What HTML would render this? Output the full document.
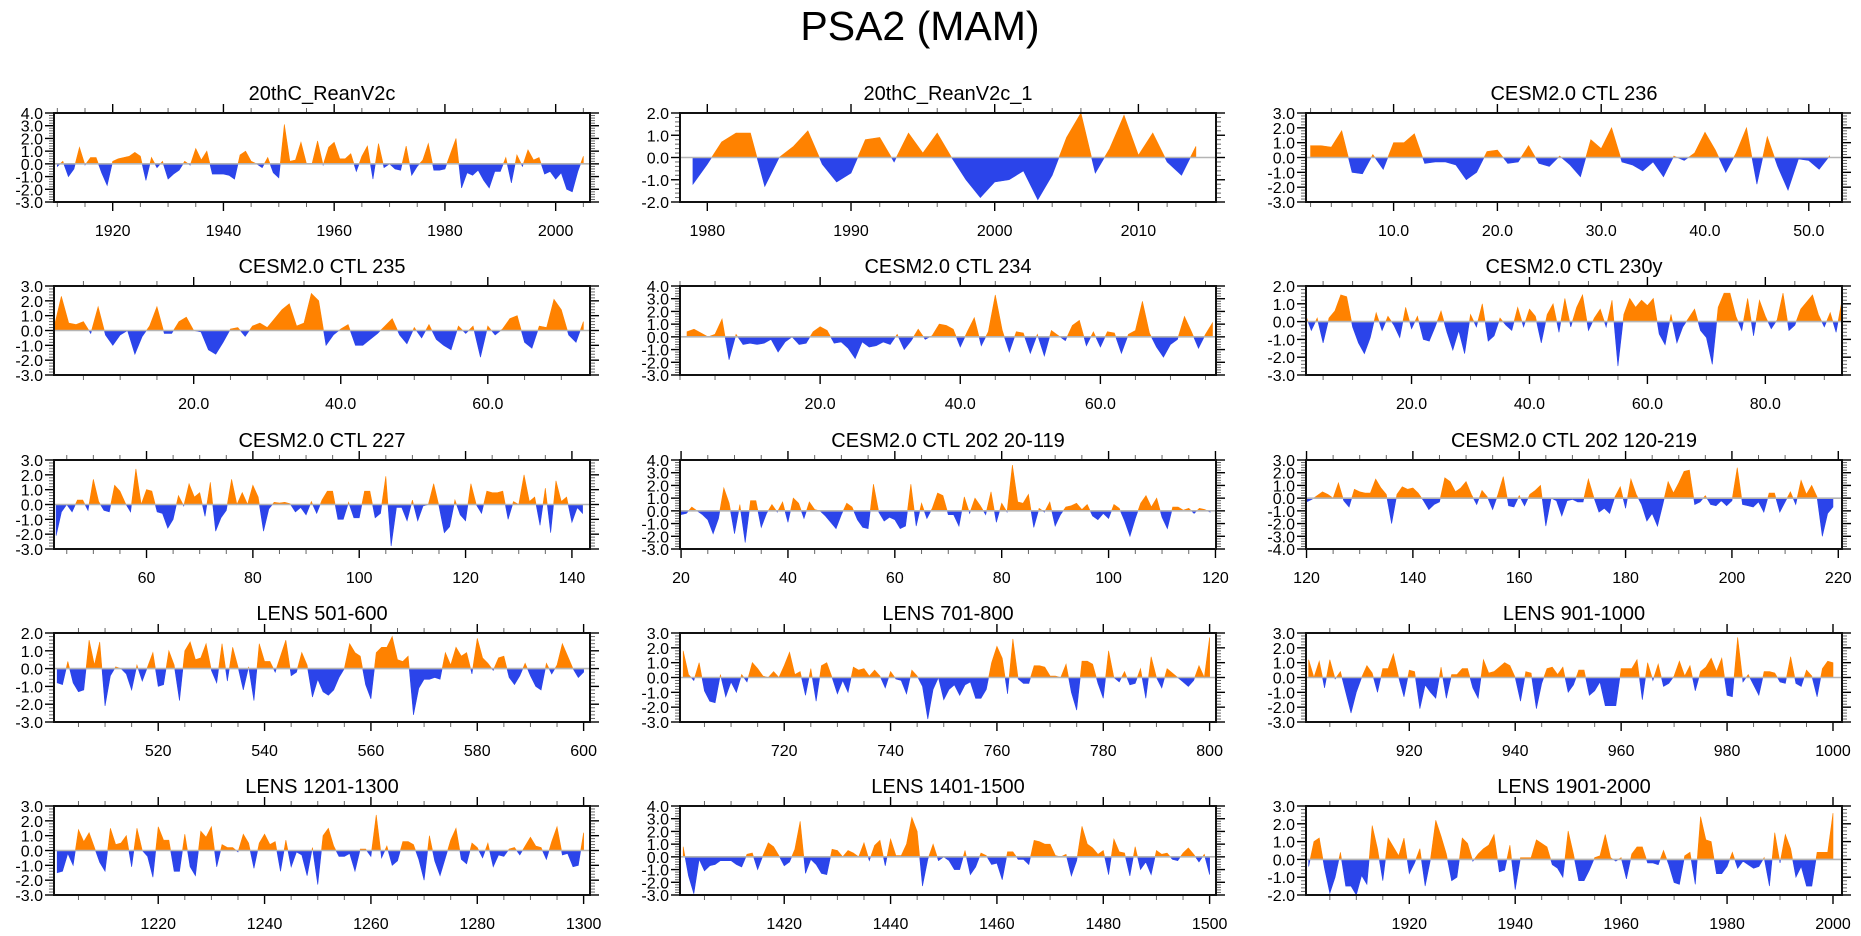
<!DOCTYPE html>
<html><head><meta charset="utf-8"><title>PSA2 (MAM)</title>
<style>
html,body{margin:0;padding:0;background:#fff;}
svg{display:block;font-family:"Liberation Sans",Arial,sans-serif;}
</style></head>
<body>
<svg id="chart" width="1861" height="936" viewBox="0 0 1861 936" xmlns="http://www.w3.org/2000/svg">
<rect x="0" y="0" width="1861" height="936" fill="#fff"/>
<text x="920" y="40" font-size="41" text-anchor="middle" fill="#000">PSA2 (MAM)</text>
</svg>
<script>
const titles = ["20thC_ReanV2c","20thC_ReanV2c_1","CESM2.0 CTL 236","CESM2.0 CTL 235","CESM2.0 CTL 234","CESM2.0 CTL 230y","CESM2.0 CTL 227","CESM2.0 CTL 202 20-119","CESM2.0 CTL 202 120-219","LENS 501-600","LENS 701-800","LENS 901-1000","LENS 1201-1300","LENS 1401-1500","LENS 1901-2000"];
const xStarts = [1910,1979,2,1,1,2,43,20,120,501,701,901,1201,1401,1901];
const xMins = [1909.4,1978.1,1.56,1,0,2.1,42.6,19.8,119.9,500.4,700.4,900.5,1200.4,1400.4,1900.5];
const xMaxs = [2006.2,2015.4,53.2,73.9,76.5,93,143.4,120.1,220.7,601.2,801.2,1001.7,1301.2,1501.2,2001.7];
const yMins = [-3,-2,-3,-3,-3,-3,-3,-3,-4,-3,-3,-3,-3,-3,-2];
const yMaxs = [4,2,3,3,4,2,3,4,3,2,3,3,3,4,3];
const xt0 = [1920,1940,1960,1980,2000];
const xt1 = [1980,1990,2000,2010];
const xt2 = [10,20,30,40,50];
const xt3 = [20,40,60];
const xt4 = [20,40,60];
const xt5 = [20,40,60,80];
const xt6 = [60,80,100,120,140];
const xt7 = [20,40,60,80,100,120];
const xt8 = [120,140,160,180,200,220];
const xt9 = [520,540,560,580,600];
const xt10 = [720,740,760,780,800];
const xt11 = [920,940,960,980,1000];
const xt12 = [1220,1240,1260,1280,1300];
const xt13 = [1420,1440,1460,1480,1500];
const xt14 = [1920,1940,1960,1980,2000];
const xTickLabels = [xt0,xt1,xt2,xt3,xt4,xt5,xt6,xt7,xt8,xt9,xt10,xt11,xt12,xt13,xt14];
const xLabelDecimals = [0,0,1,1,1,1,0,0,0,0,0,0,0,0,0];
const xMinorSteps = [5,2,2,5,5,5,5,5,5,5,5,5,5,5,5];

const v0 = [-0.2,0.2,-1.0,-0.4,1.3,-0.1,0.5,0.5,-0.7,-1.7,0.2,0.4,0.5,0.6,0.9,0.6,-1.3,0.5,-0.3,0.2,-1.2,-0.8,-0.5,0.2,-0.1,1.2,0.3,1.0,-0.8,-0.8,-0.8,-0.9,-1.2,0.7,1.0,0.2,0.0,-0.3,0.5,-0.7,-1.1,3.1,0.2,0.3,1.7,0.0,0.0,1.8,-0.1,1.3,1.7,0.4,0.4,0.8,-0.6,0.6,1.4,-1.2,1.6,-0.3,0.0,-0.4,-0.5,1.4,-0.9,-0.2,0.3,1.6,-0.5,-0.5,-0.4,0.8,2.0,-1.9,-0.7,-0.9,-0.5,-1.3,-1.9,-0.6,-0.6,0.5,-1.5,0.7,-0.2,1.1,0.3,0.5,-0.8,-0.6,-1.2,-0.7,-2.0,-2.2,-0.6,0.6];
const v1 = [-1.2,-0.3,0.7,1.1,1.1,-1.3,0.0,0.5,1.2,-0.3,-1.1,-0.7,0.8,0.9,-0.2,1.1,0.2,1.1,0.0,-1.0,-1.8,-1.1,-1.0,-0.6,-1.9,-0.8,0.9,2.0,-0.7,0.4,1.9,0.1,1.1,-0.2,-0.8,0.5];
const v2 = [0.8,0.8,0.7,1.8,-1.0,-1.1,0.2,-0.8,1.0,1.0,1.6,-0.4,-0.3,-0.3,-0.5,-1.5,-1.0,0.4,0.5,-0.4,-0.3,0.8,-0.4,-0.6,0.1,-0.5,-1.3,1.2,0.6,2.0,-0.3,-0.5,-0.9,-0.3,-1.3,0.1,-0.2,0.3,1.7,0.5,-1.0,0.3,2.0,-1.8,1.4,-0.6,-2.2,-0.1,-0.2,-0.8,0.1];
const v3 = [0.2,2.3,0.5,0.4,0.6,-0.2,1.6,-0.3,-1.0,-0.3,0.0,-1.6,-0.4,0.3,1.6,-0.2,-0.2,0.6,0.9,0.0,-0.1,-1.3,-1.6,-0.8,0.1,0.2,-0.4,0.3,0.5,0.2,0.8,1.4,1.8,0.3,0.5,2.5,2.0,-1.0,-0.3,0.1,0.4,-1.0,-1.0,-0.6,-0.2,0.3,0.8,-0.3,-0.9,0.2,-0.5,0.4,-0.6,-1.0,-1.3,0.3,-0.2,0.3,-1.8,0.3,-0.3,0.1,0.8,1.0,-0.8,-1.2,0.3,0.2,2.1,1.4,-0.3,-0.8,0.6];
const v4 = [0.4,0.6,0.3,0.0,0.2,1.4,-1.8,0.2,-0.6,-0.5,-0.6,-0.5,-0.2,-1.2,-0.4,0.0,-0.6,-0.5,0.4,0.8,0.5,-0.5,-0.4,-0.9,-1.7,-0.4,-0.8,-0.7,-0.4,-0.6,0.2,-1.0,-0.3,0.6,-0.2,0.1,1.0,0.9,0.6,-0.8,0.4,1.5,-0.7,0.4,3.3,0.5,-1.2,0.4,0.3,-1.3,0.2,-1.5,0.5,0.1,-0.3,0.9,1.3,-0.7,0.4,-0.8,0.4,0.3,-1.3,0.2,0.5,2.8,0.3,-0.8,-1.6,-0.6,-0.2,1.6,0.4,-0.9,0.2,1.1];
const v5 = [0.4,-0.5,0.2,-1.2,0.2,0.6,1.5,1.4,-0.3,-1.2,-1.8,-0.9,0.5,-0.5,0.3,-0.2,-0.9,0.8,-0.4,0.3,-1.0,-1.1,-0.3,0.6,-0.6,-1.6,-0.5,-1.8,0.4,-0.3,1.0,-1.1,-0.8,0.2,-0.2,-0.5,0.8,-0.3,0.7,0.3,-1.2,0.4,1.0,-0.6,1.3,-0.3,0.8,1.5,-0.5,0.2,0.7,-0.3,1.2,-2.5,0.4,1.3,0.8,1.2,0.9,1.3,-0.7,-1.3,0.4,-1.2,-0.3,0.2,0.7,-0.5,-0.9,-2.4,0.8,1.6,1.6,0.3,-0.5,1.3,-0.8,1.2,0.3,-0.4,0.1,1.6,-0.5,-0.2,0.7,1.1,1.5,0.4,-0.3,0.5,-0.6,1.2];
const v6 = [-2.1,-0.5,0.0,-0.5,0.3,0.3,-0.4,1.7,0.2,-0.4,-0.5,1.3,0.9,0.1,-0.5,2.4,0.0,1.0,0.9,-0.5,-0.6,-1.6,-1.0,0.6,-0.1,1.4,0.5,0.8,-0.8,1.5,-1.8,-0.9,-0.4,1.7,0.0,0.8,0.0,1.3,0.5,-1.8,-0.3,0.15,0.1,0.15,0.05,-0.5,-0.2,-0.7,0.2,-0.6,0.3,0.9,0.9,-1.0,-1.0,0.15,-0.9,-0.9,0.9,0.9,-0.9,-0.6,1.9,-2.8,-0.2,-0.2,-1.1,0.3,-1.1,-0.1,0.0,1.4,-0.1,-1.9,-1.5,0.3,-0.7,-1.1,1.4,0.0,-0.6,0.9,0.8,0.8,0.9,-1.0,0.2,0.0,2.0,0.2,0.5,-1.4,1.1,-1.9,1.6,0.2,0.5,-1.2,-0.2,-0.6];
const v7 = [-0.3,-0.2,0.3,0.0,-0.3,-0.7,-1.8,-0.6,1.8,0.6,-1.8,0.5,-2.5,0.8,0.8,-1.3,-0.2,0.5,-0.1,0.7,-0.9,1.0,0.6,-0.6,0.7,0.1,0.0,-0.4,-0.9,-1.4,-0.3,0.6,0.3,-0.7,-1.3,-1.4,2.1,-0.1,-0.8,-0.5,-0.7,-1.4,-1.2,2.1,-1.2,0.6,-0.6,0.2,1.4,1.2,-0.3,-0.3,-1.2,1.1,-0.2,1.0,0.4,-0.3,1.5,-0.9,0.6,-0.1,3.6,0.7,0.6,1.3,-1.3,0.2,-0.1,0.7,-1.2,-0.3,0.3,0.4,0.6,0.1,0.5,-0.4,-0.7,-0.2,-0.6,0.5,0.2,-0.8,-2.0,-0.6,0.6,1.2,0.3,1.0,-0.5,-1.4,0.3,0.3,0.05,0.2,-0.2,0.2,0.1,-0.1];
const v8 = [-0.3,-0.1,0.2,0.5,0.3,0.0,1.2,-0.2,-0.7,0.7,0.5,0.4,0.4,1.5,0.8,0.3,-2.0,0.3,0.9,0.7,0.8,0.4,-0.2,-0.9,-0.5,-0.3,1.6,1.3,0.5,0.8,1.3,0.3,-0.5,0.6,0.1,-0.9,0.3,1.7,-0.6,-0.7,0.2,-0.6,0.3,0.6,1.0,-2.2,0.0,-0.2,-1.4,-0.2,-0.1,-0.3,-0.3,1.5,0.1,-1.1,-0.8,-1.2,0.1,0.9,-0.8,1.5,0.3,-0.5,-1.8,-1.2,-2.2,-0.5,1.3,0.4,1.2,2.1,2.2,-0.5,-0.3,0.2,-0.5,-0.6,-0.2,-0.6,-0.2,2.4,-0.5,-0.6,-0.7,-0.3,-1.1,0.4,0.4,-1.1,-0.3,0.5,-0.5,1.4,0.3,1.0,0.1,-3.0,-1.2,-0.7];
const v9 = [-0.8,-0.9,0.4,-0.8,-1.3,-1.2,1.6,0.2,1.5,-2.1,-0.4,0.1,0.0,-0.3,-1.2,0.2,-0.7,0.1,0.9,-1.0,-0.9,1.0,0.2,-1.8,1.0,1.5,0.5,0.6,1.4,-0.1,-0.8,1.4,-0.7,1.2,0.1,-1.2,0.1,-1.8,1.4,0.4,0.4,-0.2,0.7,1.6,-0.4,-0.2,0.9,0.2,-1.6,-0.6,-1.3,-1.5,-1.2,-0.5,0.0,1.4,0.9,0.7,-0.9,-1.7,0.9,1.2,1.2,1.8,0.5,0.4,0.7,-2.6,-1.1,-0.6,-0.6,-0.5,-0.6,0.9,0.2,1.2,0.7,0.9,-0.3,1.7,0.6,0.3,-0.1,0.6,0.7,-0.5,-0.9,-0.4,0.3,-0.4,-1.0,-1.2,0.3,-0.3,0.2,1.4,0.7,0.0,-0.5,-0.2];
const v10 = [1.8,0.2,-0.2,1.0,-0.9,-1.6,-1.7,0.2,-1.3,-0.3,-1.0,0.2,-0.3,1.0,0.6,0.1,0.0,0.4,0.0,0.8,1.7,0.2,0.4,-1.2,0.6,-1.6,0.8,1.0,0.0,-1.1,-0.2,-1.0,0.7,0.5,0.6,0.1,0.5,0.1,-0.7,0.4,-0.1,-0.2,-1.1,0.5,0.1,-0.6,-2.8,-0.8,0.0,-1.5,-0.8,-0.5,-1.2,-0.5,-0.3,-1.4,-1.4,-0.8,1.0,2.1,1.3,-1.1,2.6,-0.1,-0.4,-0.4,0.8,0.8,0.7,0.1,0.1,0.0,0.9,-1.0,-2.2,1.1,1.1,0.9,-0.4,-1.4,1.8,0.0,-0.3,0.4,-0.5,-0.4,0.6,-1.4,1.4,0.0,-0.7,0.6,0.3,0.0,-0.3,-0.6,-0.2,0.8,0.0,2.7];
const v11 = [1.2,0.0,1.1,-0.7,1.2,-0.1,0.4,-1.0,-2.4,-1.0,0.0,0.8,0.3,-1.0,0.6,0.6,1.6,0.0,-1.3,0.5,0.4,-2.1,-0.5,-1.0,-1.4,0.7,-1.4,0.2,0.2,0.6,0.6,-0.7,-1.4,1.2,0.3,0.4,0.7,1.0,0.8,0.0,-1.6,0.4,0.3,-2.1,-0.4,0.6,0.7,0.2,0.7,-1.0,-0.5,0.5,0.5,-1.2,-0.9,-0.3,-1.9,-1.9,-1.9,0.6,0.6,0.6,1.2,-1.5,1.0,-0.2,0.9,-0.6,-0.4,0.1,1.1,0.1,0.8,-0.9,0.4,0.7,1.3,0.4,1.3,-1.2,-1.3,2.7,-0.3,0.2,-0.5,-1.2,0.4,0.4,0.3,-0.3,-0.4,1.4,-0.4,-0.6,0.5,0.1,-1.3,0.6,1.1,1.0];
const v12 = [-1.5,-1.4,-0.2,-1.0,1.4,0.6,1.2,0.2,-0.8,-1.4,1.5,0.4,0.5,1.0,-1.1,1.5,0.0,-0.4,-1.8,1.6,0.7,0.7,-1.4,-1.4,1.1,-1.1,-1.7,1.3,0.9,1.6,-1.1,0.4,0.2,0.2,-0.1,1.1,0.5,-1.2,0.5,1.1,0.4,0.6,-1.4,0.7,-1.1,-0.1,-0.3,-1.7,0.2,-2.3,1.0,1.5,0.3,-0.4,-0.4,-0.2,-1.4,0.1,0.1,-0.4,2.4,-0.5,0.3,-1.0,-0.7,0.6,0.6,0.4,-0.6,-2.0,1.0,-0.7,-1.7,-0.5,0.7,1.5,-0.6,-0.9,0.5,0.2,-0.5,0.5,-1.1,-0.3,-0.4,0.1,0.2,-0.3,0.3,0.9,0.3,0.2,-0.6,0.6,1.6,-0.3,-0.2,-1.1,-1.0,1.2];
const v13 = [0.8,-1.5,-2.9,-0.2,-1.1,-0.7,-0.6,-0.3,-0.3,-0.3,-0.6,-0.8,0.2,0.3,-1.0,0.1,1.1,0.8,0.1,-0.7,-0.4,0.6,2.8,-1.3,-0.2,-0.6,-1.3,-1.4,0.6,0.5,0.0,0.5,0.3,0.0,1.1,-0.3,0.9,1.3,-0.7,1.4,0.1,0.1,1.0,3.1,2.0,-2.3,-0.2,1.0,-0.3,0.0,-0.3,-1.0,-1.0,0.5,-1.4,-0.8,0.3,0.1,-0.6,-0.5,-1.8,0.4,0.4,-0.2,-0.2,-0.6,1.3,1.2,1.0,1.0,0.1,0.0,0.2,-1.5,-0.3,2.4,1.0,0.7,0.2,0.5,-1.4,1.4,0.4,0.3,-1.5,0.8,-1.0,-0.4,-1.4,0.5,0.2,0.3,-0.2,-0.3,0.3,0.7,0.2,-0.4,0.2,-1.4];
const v14 = [-0.4,1.0,1.2,-0.5,-1.9,-1.0,0.4,-1.5,-1.5,-2.0,-0.9,-1.4,1.9,0.6,-1.2,1.2,0.7,0.2,1.2,-0.8,-0.2,0.6,-1.5,0.0,2.2,1.3,0.3,-1.2,-1.0,1.2,0.9,-0.1,0.3,0.6,0.8,1.4,-0.7,-0.6,0.8,-1.7,0.1,0.1,0.1,1.1,0.9,0.7,-0.3,-0.5,-1.0,1.6,0.3,-1.2,-1.2,-0.6,0.1,0.2,1.4,0.1,-0.1,0.1,-1.1,0.3,0.7,0.7,-0.2,-0.2,-0.3,0.5,-0.3,-1.3,-1.4,0.2,0.4,-1.4,2.4,1.1,1.0,-0.8,-0.8,-0.4,0.4,-0.5,-0.1,-0.3,-0.5,-0.4,0.1,-1.5,1.5,-0.2,1.4,0.6,-1.0,-0.4,-1.5,-1.5,0.4,0.4,0.4,2.6];
const series = [v0,v1,v2,v3,v4,v5,v6,v7,v8,v9,v10,v11,v12,v13,v14];

const colLefts = [54,680,1306];
const rowTops = [113,286,460,633,806];
const plotW = 536, plotH = 89;
const NS = "http://www.w3.org/2000/svg";
const svg = document.getElementById('chart');
function mk(tag, attrs, parent){
  const e = document.createElementNS(NS, tag);
  for (const k in attrs) e.setAttribute(k, attrs[k]);
  parent.appendChild(e);
  return e;
}
const ORANGE = "#ff8200", BLUE = "#2b44ea";

for (let p = 0; p < 15; p++) {
  const L = colLefts[p % 3], T = rowTops[Math.floor(p / 3)];
  const xmin = xMins[p], xmax = xMaxs[p], ymin = yMins[p], ymax = yMaxs[p];
  const xs = u => L + (u - xmin) / (xmax - xmin) * plotW;
  const ys = v => T + (ymax - v) / (ymax - ymin) * plotH;
  const g = mk('g', {}, svg);
  
  

  const t = mk('text', {x: L + plotW / 2, y: T - 13, 'font-size': 20, 'text-anchor': 'middle', fill: '#000'}, g);
  t.textContent = titles[p];
  
  

  const vals = series[p], st = xStarts[p], y0 = ys(0);
  let d = 'M' + xs(st).toFixed(2) + ',' + y0.toFixed(2);
  for (let i = 0; i < vals.length; i++) d += ' L' + xs(st + i).toFixed(2) + ',' + ys(vals[i]).toFixed(2);
  d += ' L' + xs(st + vals.length - 1).toFixed(2) + ',' + y0.toFixed(2) + ' Z';

  const cidA = 'ca' + p, cidB = 'cb' + p;
  const defs = mk('defs', {}, g);
  const c1 = mk('clipPath', {id: cidA}, defs);
  mk('rect', {x: L, y: T, width: plotW, height: y0 - T}, c1);
  const c2 = mk('clipPath', {id: cidB}, defs);
  mk('rect', {x: L, y: y0, width: plotW, height: T + plotH - y0}, c2);

  const pos = mk('path', {d: d, fill: ORANGE, stroke: ORANGE, 'stroke-width': 0.6, 'clip-path': 'url(#' + cidA + ')'}, g);
  
  
  const neg = mk('path', {d: d, fill: BLUE, stroke: BLUE, 'stroke-width': 0.6, 'clip-path': 'url(#' + cidB + ')'}, g);
  
  

  const zl = mk('line', {x1: L, x2: L + plotW, y1: y0, y2: y0, stroke: '#b4b4b4', 'stroke-width': 1.6}, g);
  
  

  const nMinor = Math.round((ymax - ymin) * 5);
  for (let k = 0; k <= nMinor; k++) {
    const v = ymin + k * 0.2, y = ys(v);
    const major = (k % 5 === 0);
    const len = major ? 9 : 5;
    mk('line', {x1: L - len, x2: L, y1: y, y2: y, stroke: major ? '#000' : '#666', 'stroke-width': major ? 1.4 : 1}, g);
    mk('line', {x1: L + plotW, x2: L + plotW + len, y1: y, y2: y, stroke: major ? '#000' : '#666', 'stroke-width': major ? 1.4 : 1}, g);
    if (major) {
      const lb = mk('text', {x: L - 11, y: y + 6, 'font-size': 16, 'text-anchor': 'end', fill: '#000'}, g);
      lb.textContent = v.toFixed(1);
      
      
    }
  }
  const ms = xMinorSteps[p];
  for (let u = Math.ceil(xmin / ms) * ms; u <= xmax + 1e-6; u += ms) {
    const x = xs(u);
    if (x < L - 0.5 || x > L + plotW + 0.5) continue;
    const isMajor = xTickLabels[p].indexOf(u) >= 0;
    const len = isMajor ? 9 : 5;
    mk('line', {x1: x, x2: x, y1: T + plotH, y2: T + plotH + len, stroke: isMajor ? '#000' : '#666', 'stroke-width': isMajor ? 1.4 : 1}, g);
    mk('line', {x1: x, x2: x, y1: T - len, y2: T, stroke: isMajor ? '#000' : '#666', 'stroke-width': isMajor ? 1.4 : 1}, g);
  }
  for (const u of xTickLabels[p]) {
    const lb = mk('text', {x: xs(u), y: T + plotH + 34, 'font-size': 16, 'text-anchor': 'middle', fill: '#000'}, g);
    lb.textContent = u.toFixed(xLabelDecimals[p]);
    
    
  }
  const fr = mk('rect', {x: L, y: T, width: plotW, height: plotH, fill: 'none', stroke: '#111', 'stroke-width': 2}, g);
  
  
}
</script>
</body></html>
